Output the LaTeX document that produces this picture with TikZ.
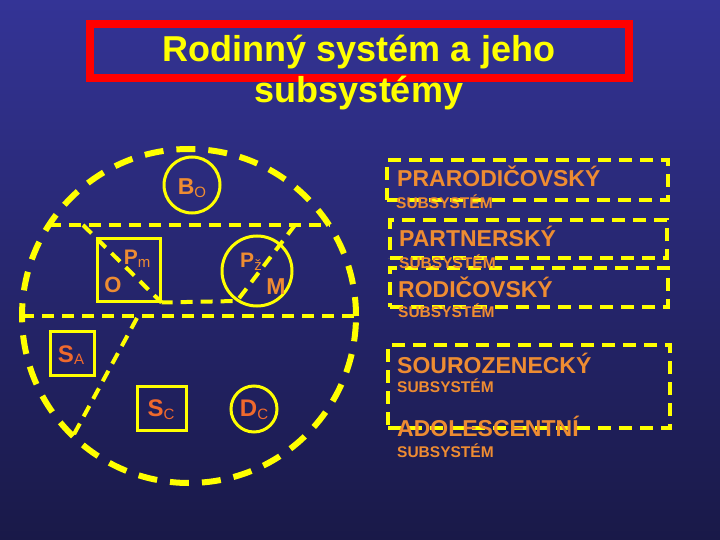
\documentclass[tikz,border=0pt]{standalone}
\usepackage{fontspec}
\setmainfont{Liberation Sans}
\usetikzlibrary{positioning}

\definecolor{nebeH}{RGB}{52,52,150}
\definecolor{nebeD}{RGB}{25,25,72}
\definecolor{zluta}{RGB}{255,255,0}
\definecolor{cervena}{RGB}{255,0,0}
\definecolor{oranz}{RGB}{238,140,50}
\definecolor{rezava}{RGB}{240,105,45}

\newcommand{\lbl}[3][23]{{\fontsize{#1}{#1}\selectfont\bfseries #2}\raisebox{-0.5ex}{\fontsize{15}{15}\selectfont #3}}

\tikzset{
  velky/.style={draw=zluta, line width=6pt, dash pattern=on 19pt off 13pt, circle, outer sep=0pt, inner sep=0pt},
  deleni/.style={draw=zluta, line width=4pt, dash pattern=on 12pt off 8pt},
  ramecek/.style={draw=zluta, line width=4pt, dash pattern=on 13pt off 8pt, rectangle, inner sep=0pt},
  kruh/.style={draw=zluta, line width=3pt, circle, inner sep=0pt},
  ctverec/.style={draw=zluta, line width=3pt, rectangle, inner sep=0pt},
  znak/.style={text=oranz, inner sep=0pt},
  znakR/.style={text=rezava, inner sep=0pt},
  nazev/.style={text=oranz, anchor=base west, inner sep=0pt, font=\fontsize{23}{23}\selectfont\bfseries},
  podnazev/.style={text=oranz, anchor=base west, inner sep=0pt, font=\fontsize{15.5}{15.5}\selectfont\bfseries}
}

\begin{document}
\begin{tikzpicture}[x=1pt, y=-1pt]
\useasboundingbox (0,0) rectangle (720,540);
\shade[top color=nebeH, bottom color=nebeD] (0,0) rectangle (720,540);

% title
\draw[cervena, line width=8pt] (90,24) rectangle (629,78);
\node[text=zluta, anchor=base, inner sep=0pt, font=\fontsize{36}{36}\selectfont\bfseries] (titul1) at (359,62) {Rodinný systém a jeho};
\node[text=zluta, anchor=base, inner sep=0pt, font=\fontsize{36}{36}\selectfont\bfseries] (titul2) at (359,103) {subsystémy};

% family circle
\node[velky, minimum size=334pt] (rodina) at (189,316) {};

\node[kruh, minimum size=56pt] (bo) at (192,185) {};
\node[ctverec, minimum width=63pt, minimum height=63pt] (pm) at (128.5,269.5) {};
\node[kruh, minimum size=70pt] (pz) at (257,271) {};
\node[ctverec, minimum width=44pt, minimum height=44pt] (sa) at (72,353) {};
\node[ctverec, minimum width=49pt, minimum height=44pt] (sc) at (161.5,408) {};
\node[kruh, minimum size=46pt] (dc) at (254,409) {};

\coordinate (h1) at (83,225);
\coordinate (h2) at (295,225);
\coordinate (zlom) at (237,301);
\coordinate (d1) at (137,318);

\draw[deleni] (rodina.147) -- (rodina.33);
\draw[deleni] (rodina.180) -- (rodina.0);
\draw[deleni] (h1) -- (pm.south east);
\draw[deleni] (h2) -- (zlom) -- (pm.south east);
\draw[deleni] (d1) -- (rodina.226);

\node[znak] (tbo) at (192,188) {\lbl{B}{O}};
\node[znak] (tpm) at (137,259) {\lbl[21]{P}{m}};
\node[znak, font=\fontsize{22}{22}\selectfont\bfseries] (to) at (113,285) {O};
\node[znak] (tpz) at (251,262) {\lbl[21]{P}{ž}};
\node[znak, font=\fontsize{23}{23}\selectfont\bfseries] (tm) at (276,287) {M};
\node[znakR] (tsa) at (71,355) {\lbl[24]{S}{A}};
\node[znakR] (tsc) at (161,410) {\lbl[24]{S}{C}};
\node[znakR] (tdc) at (254,410) {\lbl[24]{D}{C}};

% subsystems
\node[ramecek, minimum width=281pt, minimum height=40pt] (b1) at (527.5,180) {};
\node[ramecek, minimum width=277pt, minimum height=38pt] (b2) at (528.5,239) {};
\node[ramecek, minimum width=278pt, minimum height=39pt] (b3) at (529,287.5) {};
\node[ramecek, minimum width=282pt, minimum height=83pt] (b4) at (529,386.5) {};

\node[nazev] (n1) at (397,187) {PRARODIČOVSKÝ};
\node[podnazev] (s1) at (396,208) {SUBSYSTÉM};
\node[nazev] (n2) at (399,246) {PARTNERSKÝ};
\node[podnazev] (s2) at (399,268) {SUBSYSTÉM};
\node[nazev] (n3) at (398,297) {RODIČOVSKÝ};
\node[podnazev] (s3) at (398,317) {SUBSYSTÉM};
\node[nazev] (n4) at (397,373) {SOUROZENECKÝ};
\node[podnazev] (s4) at (397,392) {SUBSYSTÉM};
\node[nazev] (n5) at (397,436) {ADOLESCENTNÍ};
\node[podnazev] (s5) at (397,457) {SUBSYSTÉM};
\end{tikzpicture}
\end{document}
